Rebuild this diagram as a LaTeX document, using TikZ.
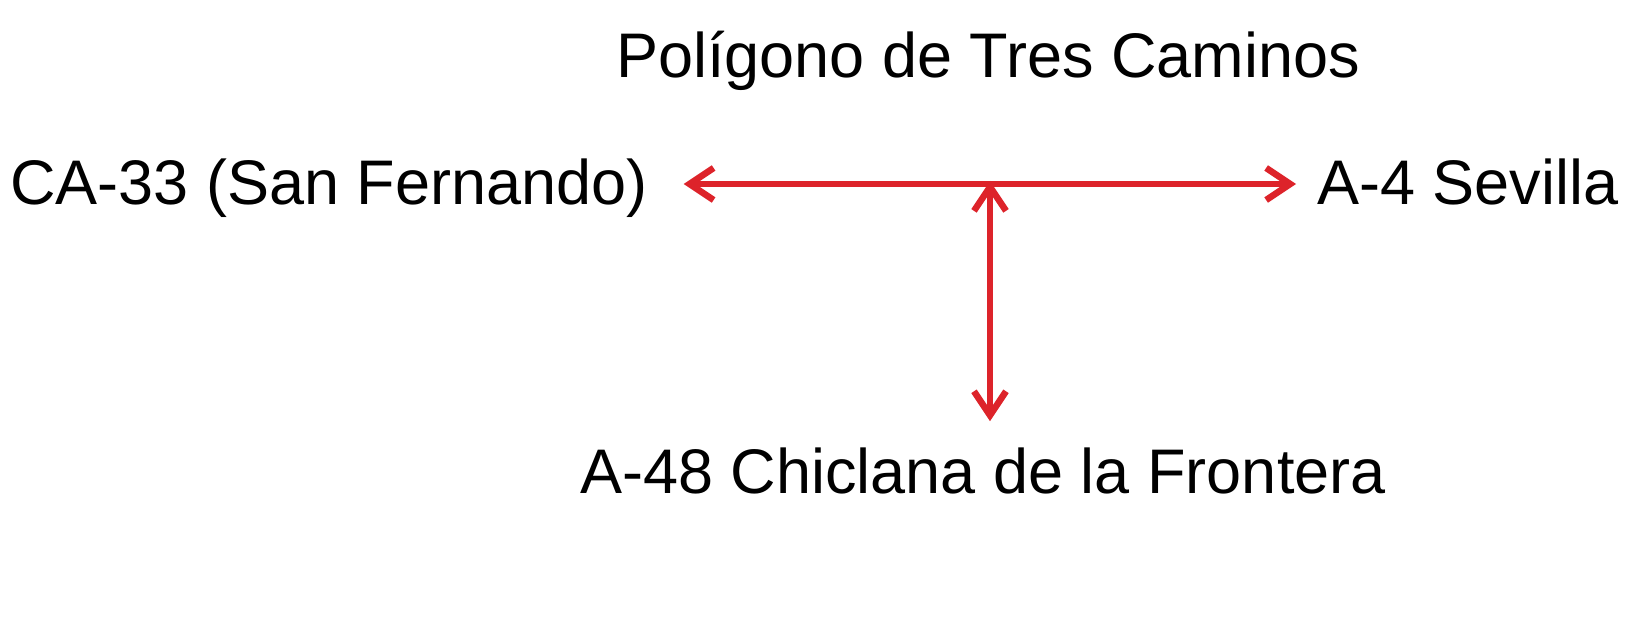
\documentclass[tikz,border=0pt]{standalone}
\usepackage{fontspec}
\setmainfont{Liberation Sans}
\usetikzlibrary{arrows.meta}
\definecolor{roadred}{RGB}{221,35,42}
\begin{document}
\begin{tikzpicture}[x=1pt,y=-1pt,
  lbl/.style={inner sep=0pt,font=\fontsize{63}{75}\selectfont},
  roadarrow/.style={draw=roadred,line width=6.5pt,
    {Straight Barb[length=24pt,width=32pt]}-{Straight Barb[length=24pt,width=32pt]}}]
\useasboundingbox[fill=white] (0,0) rectangle (1646,631);
\node[lbl,anchor=base] (title) at (988,78) {Polígono de Tres Caminos};
\node[lbl,anchor=base west] (left) at (10,205) {CA-33 (San Fernando)};
\node[lbl,anchor=base west] (right) at (1317,205) {A-4 Sevilla};
\node[lbl,anchor=base] (bottom) at (983,493) {A-48 Chiclana de la Frontera};
\coordinate (j) at (990,184);
\draw[roadarrow] ([xshift=36pt]left.east |- j) -- ([xshift=-21pt]right.west |- j);
\draw[roadarrow] ([yshift=26pt]bottom.north -| j) -- ([yshift=3pt]j);
\end{tikzpicture}
\end{document}
